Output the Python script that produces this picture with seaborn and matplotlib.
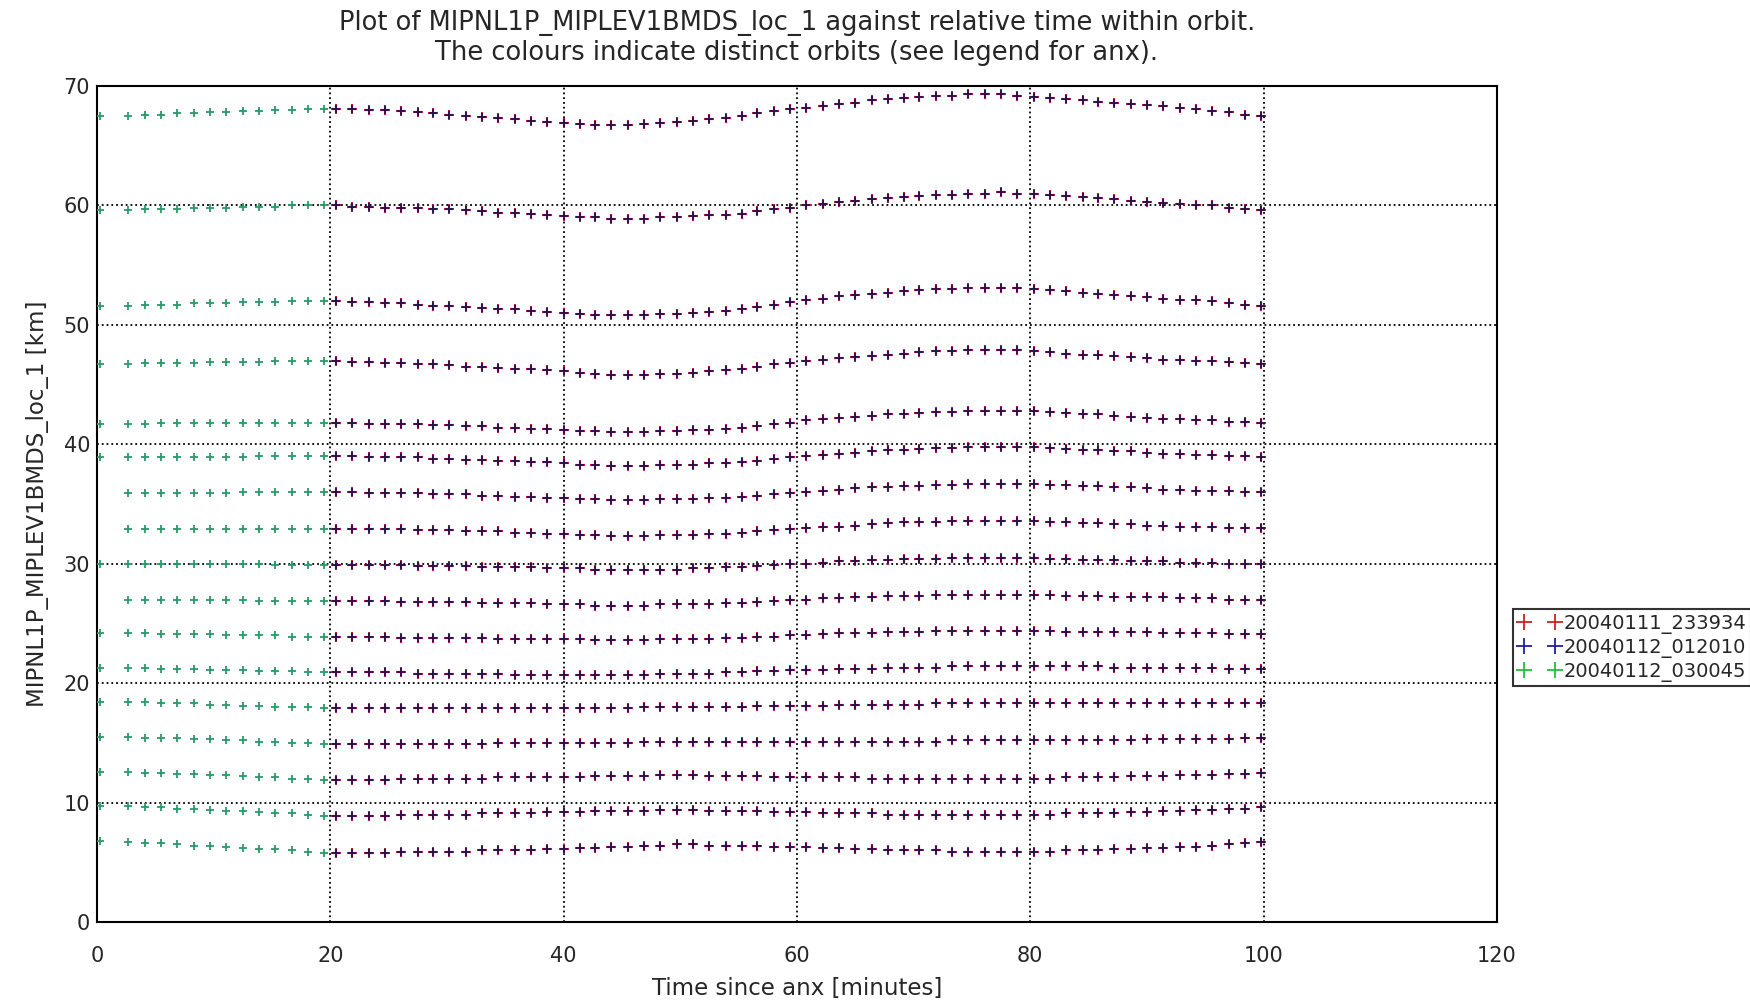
import numpy as np
import pandas as pd
import matplotlib
matplotlib.use("Agg")
import matplotlib.pyplot as plt
from matplotlib.lines import Line2D
import seaborn as sns

nan = np.nan

orbit_labels = ["20040111_233934", "20040112_012010", "20040112_030045"]
orbit_colors = ["#d02020", "#2020a0", "#20c040"]

# scan times (minutes since anx) of the last orbit (green, 0-20 min)
green_times = [0.3, 2.7, 4.1, 5.5, 6.9, 8.3, 9.7, 11.1, 12.5, 13.9, 15.3, 16.7, 18.1, 19.5]

# scan times of the two overlapping orbits (red / blue, 20-100 min)
scan_times = [20.5, 21.9, 23.3, 24.7, 26.1, 27.5, 28.8, 30.2, 31.6, 33.0,
              34.4, 35.8, 37.2, 38.6, 40.0, 41.4, 42.7, 44.1, 45.5, 46.9,
              48.3, 49.7, 51.1, 52.5, 53.9, 55.3, 56.6, 58.0, 59.4, 60.8,
              62.2, 63.6, 65.0, 66.4, 67.8, 69.2, 70.5, 71.9, 73.3, 74.7,
              76.1, 77.5, 78.9, 80.3, 81.7, 83.1, 84.5, 85.8, 87.2, 88.6,
              90.0, 91.4, 92.8, 94.2, 95.6, 97.0, 98.4, 99.8]

# tangent altitudes [km], green orbit, one list per sweep level
g_01 = [67.5, 67.5, 67.6, 67.6, 67.7, 67.7, 67.8, 67.8, 67.9, 67.9, 68.0, 68.0, 68.1, 68.1]
g_02 = [59.6, 59.6, 59.7, 59.7, 59.7, 59.8, 59.8, 59.8, 59.9, 59.9, 59.9, 60.0, 60.0, 60.0]
g_03 = [51.6, 51.6, 51.7, 51.7, 51.7, 51.8, 51.8, 51.8, 51.9, 51.9, 51.9, 52.0, 52.0, 52.0]
g_04 = [46.7, 46.7, 46.8, 46.8, 46.8, 46.8, 46.9, 46.9, 46.9, 46.9, 47.0, 47.0, 47.0, 47.0]
g_05 = [41.7, 41.7, 41.7, 41.8, 41.8, 41.8, 41.8, 41.8, 41.8, 41.8, 41.8, 41.8, 41.8, 41.8]
g_06 = [38.9, 38.9, 38.9, 38.9, 38.9, 38.9, 38.9, 38.9, 38.9, 39.0, 39.0, 39.0, 39.0, 39.0]
g_07 = [nan, 35.9, 35.9, 35.9, 35.9, 35.9, 35.9, 35.9, 36.0, 36.0, 36.0, 36.0, 36.0, 36.0]
g_08 = [nan, 32.9, 32.9, 32.9, 32.9, 32.9, 32.9, 32.9, 32.9, 32.9, 32.9, 32.9, 32.9, 32.9]
g_09 = [30.0, 30.0, 30.0, 30.0, 30.0, 30.0, 30.0, 30.0, 30.0, 30.0, 29.9, 29.9, 29.9, 29.9]
g_10 = [nan, 27.0, 27.0, 27.0, 27.0, 27.0, 27.0, 27.0, 27.0, 26.9, 26.9, 26.9, 26.9, 26.9]
g_11 = [24.2, 24.2, 24.2, 24.1, 24.1, 24.1, 24.1, 24.0, 24.0, 24.0, 24.0, 23.9, 23.9, 23.9]
g_12 = [21.3, 21.3, 21.3, 21.2, 21.2, 21.2, 21.1, 21.1, 21.1, 21.0, 21.0, 21.0, 20.9, 20.9]
g_13 = [18.4, 18.4, 18.4, 18.3, 18.3, 18.3, 18.2, 18.2, 18.1, 18.1, 18.0, 18.0, 18.0, 17.9]
g_14 = [15.5, 15.5, 15.4, 15.4, 15.4, 15.3, 15.3, 15.2, 15.2, 15.1, 15.1, 15.0, 15.0, 14.9]
g_15 = [12.6, 12.6, 12.5, 12.5, 12.4, 12.4, 12.3, 12.3, 12.2, 12.1, 12.1, 12.0, 12.0, 11.9]
g_16 = [9.7, 9.7, 9.6, 9.6, 9.5, 9.5, 9.4, 9.3, 9.3, 9.2, 9.1, 9.1, 9.0, 8.9]
g_17 = [6.8, 6.7, 6.6, 6.6, 6.5, 6.4, 6.4, 6.3, 6.2, 6.1, 6.1, 6.0, 5.9, 5.8]

# tangent altitudes [km], red/blue orbits (they overlap), one list per sweep level
p_01 = [68.1, 68.1, 68.0, 68.0, 67.9, 67.8, 67.7, 67.6, 67.5, 67.4,
        67.3, 67.2, 67.1, 67.0, 66.9, 66.8, 66.7, 66.7, 66.7, 66.8,
        66.9, 67.0, 67.1, 67.2, 67.3, 67.5, 67.7, 67.9, 68.1, 68.2,
        68.3, 68.5, 68.6, 68.8, 68.9, 69.0, 69.1, 69.2, 69.2, 69.3,
        69.3, 69.3, 69.2, 69.1, 69.0, 68.9, 68.8, 68.7, 68.6, 68.5,
        68.4, 68.3, 68.2, 68.1, 67.9, 67.8, 67.6, 67.5]
p_02 = [60.0, 59.9, 59.9, 59.8, 59.8, 59.8, 59.7, 59.7, 59.6, 59.5,
        59.4, 59.4, 59.3, 59.2, 59.1, 59.0, 59.0, 58.9, 58.9, 58.9,
        59.0, 59.0, 59.1, 59.2, 59.2, 59.3, 59.5, 59.7, 59.8, 60.0,
        60.1, 60.3, 60.4, 60.5, 60.6, 60.7, 60.8, 60.9, 60.9, 61.0,
        61.0, 61.1, 61.0, 61.0, 60.9, 60.8, 60.7, 60.6, 60.5, 60.4,
        60.3, 60.2, 60.1, 60.0, 60.0, 59.8, 59.7, 59.6]
p_03 = [52.0, 51.9, 51.9, 51.8, 51.8, 51.7, 51.6, 51.6, 51.5, 51.4,
        51.3, 51.3, 51.2, 51.1, 51.0, 50.9, 50.8, 50.8, 50.8, 50.8,
        50.9, 50.9, 51.0, 51.1, 51.2, 51.3, 51.5, 51.7, 51.9, 52.1,
        52.2, 52.4, 52.5, 52.6, 52.7, 52.8, 52.9, 53.0, 53.0, 53.1,
        53.1, 53.1, 53.1, 53.0, 52.9, 52.8, 52.7, 52.6, 52.5, 52.4,
        52.3, 52.2, 52.1, 52.1, 52.0, 51.8, 51.7, 51.6]
p_04 = [47.0, 46.9, 46.9, 46.8, 46.8, 46.7, 46.7, 46.6, 46.5, 46.5,
        46.4, 46.3, 46.3, 46.2, 46.1, 46.0, 45.9, 45.8, 45.8, 45.8,
        45.9, 45.9, 46.0, 46.1, 46.2, 46.3, 46.5, 46.7, 46.8, 47.0,
        47.1, 47.2, 47.3, 47.4, 47.5, 47.6, 47.7, 47.8, 47.8, 47.9,
        47.9, 47.9, 47.9, 47.8, 47.7, 47.6, 47.5, 47.5, 47.4, 47.3,
        47.2, 47.1, 47.1, 47.0, 47.0, 46.9, 46.8, 46.7]
p_05 = [41.8, 41.8, 41.7, 41.7, 41.7, 41.7, 41.6, 41.6, 41.5, 41.5,
        41.4, 41.4, 41.3, 41.3, 41.2, 41.1, 41.1, 41.0, 41.0, 41.0,
        41.1, 41.1, 41.2, 41.2, 41.3, 41.4, 41.5, 41.7, 41.8, 42.0,
        42.1, 42.2, 42.3, 42.4, 42.5, 42.5, 42.6, 42.7, 42.7, 42.8,
        42.8, 42.8, 42.8, 42.8, 42.7, 42.6, 42.5, 42.5, 42.4, 42.3,
        42.2, 42.1, 42.1, 42.0, 42.0, 41.9, 41.9, 41.8]
p_06 = [39.0, 39.0, 38.9, 38.9, 38.9, 38.9, 38.8, 38.8, 38.7, 38.7,
        38.6, 38.6, 38.5, 38.5, 38.4, 38.3, 38.3, 38.2, 38.2, 38.2,
        38.3, 38.3, 38.3, 38.4, 38.4, 38.5, 38.6, 38.8, 38.9, 39.0,
        39.1, 39.2, 39.3, 39.4, 39.5, 39.5, 39.6, 39.7, 39.7, 39.8,
        39.8, 39.8, 39.8, 39.8, 39.7, 39.6, 39.5, 39.5, 39.4, 39.4,
        39.3, 39.2, 39.2, 39.1, 39.1, 39.0, 39.0, 38.9]
p_07 = [36.0, 36.0, 35.9, 35.9, 35.9, 35.9, 35.8, 35.8, 35.8, 35.7,
        35.7, 35.6, 35.6, 35.5, 35.5, 35.4, 35.4, 35.3, 35.3, 35.3,
        35.4, 35.4, 35.4, 35.5, 35.5, 35.6, 35.7, 35.8, 35.9, 36.0,
        36.1, 36.2, 36.3, 36.4, 36.4, 36.5, 36.5, 36.6, 36.6, 36.7,
        36.7, 36.7, 36.7, 36.7, 36.6, 36.6, 36.5, 36.5, 36.4, 36.4,
        36.3, 36.2, 36.2, 36.1, 36.1, 36.1, 36.0, 36.0]
p_08 = [32.9, 32.9, 32.9, 32.9, 32.9, 32.8, 32.8, 32.8, 32.7, 32.7,
        32.7, 32.6, 32.6, 32.5, 32.5, 32.4, 32.4, 32.3, 32.3, 32.3,
        32.4, 32.4, 32.4, 32.5, 32.5, 32.6, 32.7, 32.8, 32.9, 33.0,
        33.1, 33.1, 33.2, 33.3, 33.4, 33.5, 33.5, 33.5, 33.6, 33.6,
        33.6, 33.6, 33.6, 33.6, 33.5, 33.5, 33.4, 33.4, 33.3, 33.3,
        33.2, 33.2, 33.1, 33.1, 33.1, 33.0, 33.0, 33.0]
p_09 = [29.9, 29.9, 29.9, 29.9, 29.9, 29.8, 29.8, 29.8, 29.8, 29.7,
        29.7, 29.7, 29.7, 29.6, 29.6, 29.6, 29.5, 29.5, 29.5, 29.5,
        29.5, 29.5, 29.6, 29.6, 29.7, 29.7, 29.8, 29.9, 30.0, 30.0,
        30.1, 30.2, 30.2, 30.3, 30.3, 30.4, 30.4, 30.4, 30.5, 30.5,
        30.5, 30.5, 30.5, 30.5, 30.4, 30.4, 30.3, 30.3, 30.3, 30.2,
        30.2, 30.2, 30.1, 30.1, 30.1, 30.0, 30.0, 30.0]
p_10 = [26.9, 26.9, 26.9, 26.9, 26.8, 26.8, 26.8, 26.8, 26.8, 26.7,
        26.7, 26.7, 26.7, 26.6, 26.6, 26.6, 26.5, 26.5, 26.5, 26.5,
        26.6, 26.6, 26.6, 26.6, 26.7, 26.7, 26.8, 26.9, 27.0, 27.0,
        27.1, 27.1, 27.2, 27.2, 27.3, 27.3, 27.3, 27.4, 27.4, 27.4,
        27.4, 27.4, 27.4, 27.4, 27.4, 27.3, 27.3, 27.3, 27.2, 27.2,
        27.2, 27.2, 27.1, 27.1, 27.1, 27.0, 27.0, 27.0]
p_11 = [23.9, 23.9, 23.9, 23.9, 23.8, 23.8, 23.8, 23.8, 23.8, 23.8,
        23.7, 23.7, 23.7, 23.7, 23.7, 23.7, 23.6, 23.6, 23.6, 23.6,
        23.7, 23.7, 23.7, 23.7, 23.8, 23.8, 23.9, 23.9, 24.0, 24.0,
        24.1, 24.2, 24.2, 24.2, 24.3, 24.3, 24.3, 24.4, 24.4, 24.4,
        24.4, 24.4, 24.4, 24.4, 24.4, 24.3, 24.3, 24.3, 24.3, 24.3,
        24.3, 24.2, 24.2, 24.2, 24.2, 24.1, 24.1, 24.1]
p_12 = [20.9, 20.9, 20.9, 20.9, 20.9, 20.8, 20.8, 20.8, 20.8, 20.8,
        20.8, 20.7, 20.7, 20.7, 20.7, 20.7, 20.7, 20.7, 20.7, 20.7,
        20.8, 20.8, 20.8, 20.8, 20.9, 20.9, 21.0, 21.0, 21.1, 21.1,
        21.1, 21.2, 21.2, 21.2, 21.3, 21.3, 21.3, 21.3, 21.4, 21.4,
        21.4, 21.4, 21.4, 21.4, 21.4, 21.4, 21.4, 21.4, 21.3, 21.3,
        21.3, 21.3, 21.3, 21.3, 21.3, 21.2, 21.2, 21.2]
p_13 = [17.9, 17.9, 17.9, 17.9, 17.9, 17.9, 17.9, 17.9, 17.9, 17.9,
        17.9, 17.9, 17.9, 17.9, 17.9, 17.9, 17.9, 17.9, 17.9, 18.0,
        18.0, 18.0, 18.0, 18.0, 18.0, 18.0, 18.1, 18.1, 18.1, 18.1,
        18.1, 18.2, 18.2, 18.2, 18.2, 18.2, 18.2, 18.3, 18.3, 18.3,
        18.3, 18.3, 18.3, 18.3, 18.3, 18.3, 18.3, 18.3, 18.3, 18.3,
        18.3, 18.3, 18.3, 18.3, 18.3, 18.3, 18.3, 18.3]
p_14 = [14.9, 14.9, 14.9, 14.9, 14.9, 14.9, 14.9, 14.9, 14.9, 14.9,
        15.0, 15.0, 15.0, 15.0, 15.0, 15.0, 15.0, 15.0, 15.0, 15.1,
        15.1, 15.1, 15.1, 15.1, 15.1, 15.1, 15.1, 15.1, 15.1, 15.1,
        15.1, 15.1, 15.1, 15.1, 15.1, 15.1, 15.1, 15.1, 15.2, 15.2,
        15.2, 15.2, 15.2, 15.2, 15.2, 15.2, 15.2, 15.2, 15.2, 15.2,
        15.3, 15.3, 15.3, 15.3, 15.3, 15.3, 15.4, 15.4]
p_15 = [11.9, 11.9, 11.9, 11.9, 12.0, 12.0, 12.0, 12.0, 12.0, 12.0,
        12.1, 12.1, 12.1, 12.1, 12.1, 12.1, 12.2, 12.2, 12.2, 12.2,
        12.3, 12.3, 12.3, 12.2, 12.2, 12.2, 12.2, 12.1, 12.1, 12.1,
        12.1, 12.1, 12.1, 12.0, 12.0, 12.0, 12.0, 12.0, 12.0, 12.0,
        12.0, 12.0, 12.0, 12.0, 12.0, 12.1, 12.1, 12.1, 12.1, 12.2,
        12.2, 12.2, 12.3, 12.3, 12.3, 12.4, 12.4, 12.5]
p_16 = [8.9, 8.9, 8.9, 8.9, 9.0, 9.0, 9.0, 9.0, 9.0, 9.1,
        9.1, 9.1, 9.1, 9.2, 9.2, 9.2, 9.3, 9.3, 9.3, 9.3,
        9.4, 9.4, 9.4, 9.3, 9.3, 9.3, 9.3, 9.2, 9.2, 9.2,
        9.1, 9.1, 9.1, 9.1, 9.0, 9.0, 9.0, 9.0, 9.0, 9.0,
        9.0, 9.0, 9.0, 9.0, 9.0, 9.1, 9.1, 9.1, 9.1, 9.2,
        9.2, 9.3, 9.3, 9.4, 9.4, 9.5, 9.5, 9.6]
p_17 = [5.8, 5.8, 5.8, 5.8, 5.9, 5.9, 5.9, 5.9, 5.9, 6.0,
        6.0, 6.0, 6.0, 6.1, 6.1, 6.2, 6.2, 6.3, 6.3, 6.4,
        6.4, 6.5, 6.5, 6.4, 6.4, 6.4, 6.4, 6.3, 6.3, 6.3,
        6.2, 6.2, 6.1, 6.1, 6.0, 6.0, 6.0, 6.0, 5.9, 5.9,
        5.9, 5.9, 5.9, 5.9, 5.9, 6.0, 6.0, 6.0, 6.1, 6.1,
        6.2, 6.2, 6.3, 6.3, 6.4, 6.5, 6.6, 6.7]

green_rows = [g_01, g_02, g_03, g_04, g_05, g_06, g_07, g_08, g_09,
              g_10, g_11, g_12, g_13, g_14, g_15, g_16, g_17]
orbit_rows = [p_01, p_02, p_03, p_04, p_05, p_06, p_07, p_08, p_09,
              p_10, p_11, p_12, p_13, p_14, p_15, p_16, p_17]


def make_frame(times, rows, orbit):
    parts = [pd.DataFrame({"time": times, "alt": r}) for r in rows]
    df = pd.concat(parts, ignore_index=True).dropna()
    df["orbit"] = orbit
    return df


red_df = make_frame(scan_times, orbit_rows, orbit_labels[0])
blue_df = make_frame(scan_times, orbit_rows, orbit_labels[1])
green_df = make_frame(green_times, green_rows, orbit_labels[2])

sns.set_style("white")
plt.rcParams["font.family"] = ["DejaVu Sans"]

fig = plt.figure(figsize=(17.5, 10.05), dpi=100)
ax = fig.add_axes([0.0554, 0.0826, 0.80, 0.8318])

# red and blue orbits sit on top of each other -> purple-ish marks
sns.scatterplot(data=red_df, x="time", y="alt", marker="+", color="#c02040",
                s=50, linewidth=1.5, ax=ax, legend=False, zorder=3)
sns.scatterplot(data=blue_df, x="time", y="alt", marker="+", color="#2a1050",
                s=30, linewidth=1.3, ax=ax, legend=False, zorder=4)
sns.scatterplot(data=green_df, x="time", y="alt", marker="+", color="#2a9a6a",
                s=35, linewidth=1.3, ax=ax, legend=False, zorder=4)

ax.set_xlim(0, 120)
ax.set_ylim(0, 70)
ax.set_xticks(range(0, 121, 20))
ax.set_yticks(range(0, 71, 10))
ax.tick_params(length=0, labelsize=15)
ax.tick_params(axis="x", pad=17)
ax.tick_params(axis="y", pad=5)
ax.grid(True, linestyle=":", color="black", linewidth=1.3)
for sp in ax.spines.values():
    sp.set_color("black")
    sp.set_linewidth(1.5)

ax.set_xlabel("Time since anx [minutes]", fontsize=16.5, labelpad=8)
ax.set_ylabel("MIPNL1P_MIPLEV1BMDS_loc_1 [km]", fontsize=16.5, labelpad=10)

fig.text(0.4554, 1 - 23 / 1005, "Plot of MIPNL1P_MIPLEV1BMDS_loc_1 against relative time within orbit.",
         ha="center", va="center", fontsize=18.5)
fig.text(0.4554, 1 - 53 / 1005, "The colours indicate distinct orbits (see legend for anx).",
         ha="center", va="center", fontsize=18.5)

handles = [Line2D([], [], color=c, marker="+", linestyle="None",
                  markersize=11, markeredgewidth=1.3) for c in orbit_colors]
leg = fig.legend(handles, orbit_labels, loc="lower left", bbox_to_anchor=(0.8645, 0.317),
                 numpoints=2, frameon=True, fancybox=False, edgecolor="black",
                 fontsize=14, handlelength=2.2, handletextpad=0.15, borderpad=0.25,
                 labelspacing=0.2, borderaxespad=0)
leg.get_frame().set_linewidth(1.5)

fig.savefig("out.png", dpi=100)
